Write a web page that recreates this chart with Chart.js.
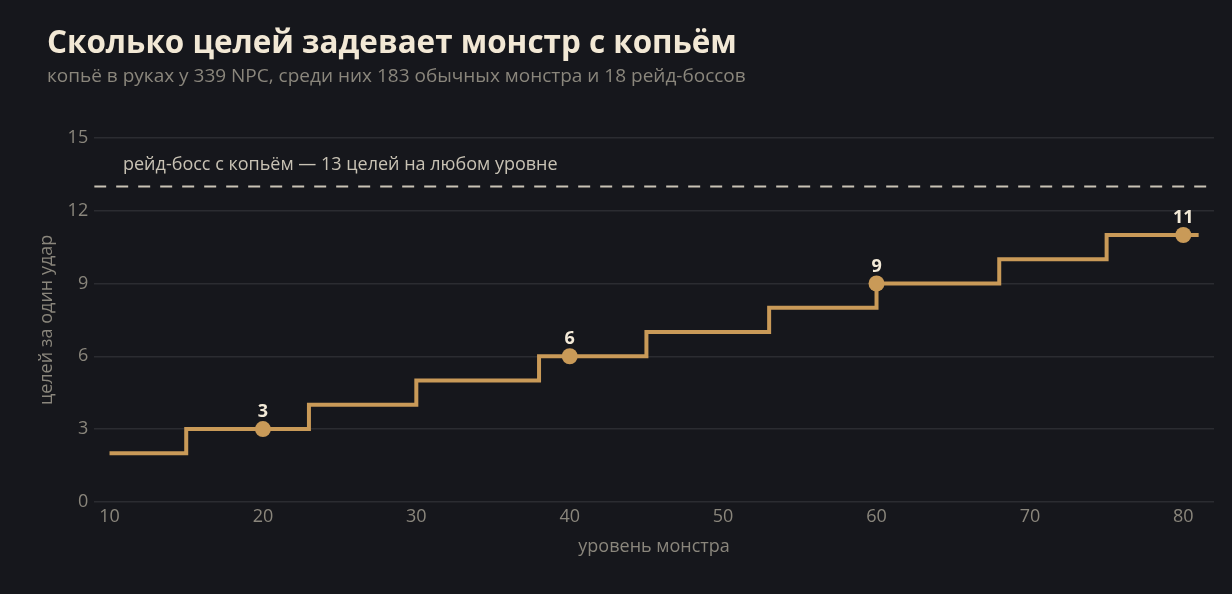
<!DOCTYPE html>
<html><head><meta charset="utf-8">
<script src="https://cdn.jsdelivr.net/npm/chart.js@4/dist/chart.umd.min.js"></script>
<style>
html,body{margin:0;padding:0;background:#16171c;}
#wrap{position:relative;width:1232px;height:594px;}
</style></head>
<body><div id="wrap"><canvas id="c" width="1232" height="594"></canvas></div>
<script>
const titleText = "Сколько целей задевает монстр с копьём";
const subtitleText = "копьё в руках у 339 NPC, среди них 183 обычных монстра и 18 рейд-боссов";
const bossNote = "рейд-босс с копьём — 13 целей на любом уровне";
const xTitle = "уровень монстра";
const yTitle = "целей за один удар";

const stepLevels = [10, 15, 23, 30, 38, 45, 53, 60, 68, 75, 81];
const stepTargets = [2, 3, 4, 5, 6, 7, 8, 9, 10, 11, 11];
const markerLevels = [20, 40, 60, 80];
const markerTargets = [3, 6, 9, 11];
const bossLevels = [9, 82];
const bossTargets = [13, 13];
const xTicks = [10, 20, 30, 40, 50, 60, 70, 80];
const yTicks = [0, 3, 6, 9, 12, 15];

const FONT = "'Open Sans', 'Noto Sans', sans-serif";
const GOLD = '#c99a58';

const textPlugin = {
  id: 'texts',
  afterDraw(chart) {
    const ctx = chart.ctx;
    ctx.save();
    ctx.textAlign = 'left';
    ctx.textBaseline = 'alphabetic';
    ctx.fillStyle = '#f2e8d5';
    ctx.font = "bold 31.4px " + FONT;
    ctx.fillText(titleText, 47, 53);
    ctx.fillStyle = '#8a867c';
    ctx.font = "19px " + FONT;
    ctx.fillText(subtitleText, 47, 82);
    const xs = chart.scales.x, ys = chart.scales.y;
    ctx.fillStyle = '#c8c2b4';
    ctx.font = "18px " + FONT;
    ctx.textBaseline = 'bottom';
    ctx.fillText(bossNote, 123, ys.getPixelForValue(13) - 13);
    ctx.font = "bold 18px " + FONT;
    ctx.textAlign = 'center';
    ctx.textBaseline = 'bottom';
    ctx.fillStyle = '#f3ead8';
    markerLevels.forEach((lv, i) => {
      ctx.fillText(String(markerTargets[i]), xs.getPixelForValue(lv), ys.getPixelForValue(markerTargets[i]) - 8);
    });
    ctx.restore();
  }
};

new Chart(document.getElementById('c'), {
  type: 'scatter',
  data: {
    datasets: [
      {
        data: bossLevels.map((x, i) => ({x, y: bossTargets[i]})),
        showLine: true, borderColor: '#c9c3b5', borderWidth: 2, borderDash: [12, 10],
        pointRadius: 0, order: 3
      },
      {
        data: stepLevels.map((x, i) => ({x, y: stepTargets[i]})),
        showLine: true, stepped: 'before', borderColor: GOLD, borderWidth: 4,
        pointRadius: 0, order: 2
      },
      {
        data: markerLevels.map((x, i) => ({x, y: markerTargets[i]})),
        showLine: false, pointRadius: 8, pointBackgroundColor: GOLD, pointBorderWidth: 0,
        order: 1
      }
    ]
  },
  options: {
    responsive: false,
    animation: false,
    devicePixelRatio: 1,
    layout: { padding: { top: 138, left: 36, right: 18, bottom: 36 } },
    plugins: { legend: { display: false }, tooltip: { enabled: false } },
    scales: {
      x: {
        type: 'linear', min: 9, max: 82,
        afterBuildTicks: (s) => { s.ticks = xTicks.map(v => ({value: v})); },
        grid: { display: false, drawTicks: false },
        border: { display: false },
        ticks: { color: '#8a867c', font: { family: FONT, size: 18 }, padding: 4 },
        title: { display: true, text: xTitle, color: '#8a867c', font: { family: FONT, size: 18 }, padding: { top: 5, bottom: 0 } }
      },
      y: {
        min: 0, max: 15,
        afterBuildTicks: (s) => { s.ticks = yTicks.map(v => ({value: v})); },
        grid: { color: '#2b2c31', lineWidth: 1.5, drawTicks: false },
        border: { display: false },
        ticks: { color: '#8a867c', font: { family: FONT, size: 18 }, padding: 6 },
        title: { display: true, text: yTitle, color: '#8a867c', font: { family: FONT, size: 18 }, padding: { top: 0, bottom: 4 } }
      }
    }
  },
  plugins: [textPlugin]
});
</script></body></html>
